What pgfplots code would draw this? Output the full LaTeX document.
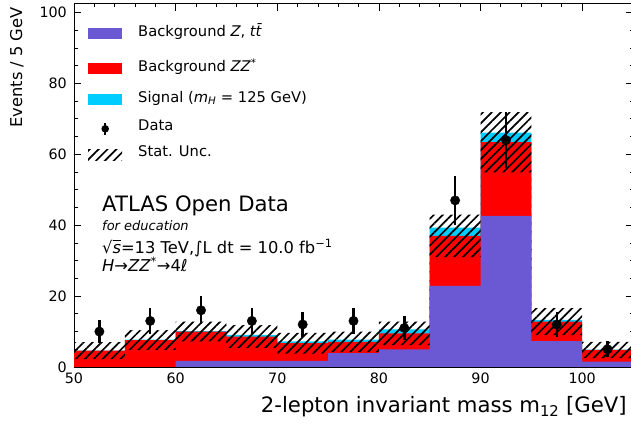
\documentclass[border=0pt]{standalone}
\usepackage{fontspec}
\setmainfont{DejaVu Sans}
\usepackage{pgfplots}
\pgfplotsset{compat=1.18}
\usepgfplotslibrary{fillbetween}
\usetikzlibrary{patterns.meta}

\definecolor{zttbar}{HTML}{6B59D3}
\definecolor{zzstar}{HTML}{FF0000}
\definecolor{higgs}{HTML}{00CDFF}

\tikzset{stathatch/.style={pattern={Lines[angle=45,distance=6.3bp,line width=1.7bp]}, pattern color=black}}
% invisible extent that sets the height of one legend row
\newcommand{\rowspan}[2]{\path[draw=none, fill=none] (0bp,#1) -- (0bp,#2);}

\begin{document}
\begin{tikzpicture}
\begin{axis}[
  at={(0,0)}, anchor=south west,
  scale only axis, width=559bp, height=363bp,
  xmin=50, xmax=105, ymin=0, ymax=102.4,
  xtick={50,60,...,100}, ytick={0,20,...,100},
  minor x tick num=4, minor y tick num=3,
  tick align=inside, xtick pos=both, ytick pos=both,
  major tick length=7bp, minor tick length=3.5bp,
  every tick/.style={black, line width=0.8bp},
  axis line style={line width=1bp},
  /pgf/number format/assume math mode=true,
  tick label style={font=\fontsize{14.3bp}{16bp}\selectfont, inner sep=0pt},
  xticklabel style={anchor=north, yshift=-6bp},
  yticklabel style={anchor=east, xshift=-7bp},
  xlabel={2-lepton invariant mass m\textsubscript{12} [GeV]},
  xlabel style={at={(rel axis cs:0.989,-0.1267)}, anchor=base east, inner sep=0pt, font=\fontsize{21.2bp}{24bp}\selectfont},
  ylabel={Events / 5 GeV},
  ylabel style={at={(rel axis cs:-0.0930,0.9917)}, anchor=base east, inner sep=0pt, font=\fontsize{16.3bp}{19bp}\selectfont},
  legend style={at={(rel axis cs:0.0197,0.9600)}, anchor=north west, draw=none, fill=none,
    font=\fontsize{14.7bp}{17bp}\selectfont, row sep=0bp, column sep=16bp,
    nodes={inner sep=0pt}},
  legend cell align=left,
  fill between/on layer=main,
]
% legend entries
\addlegendimage{legend image code/.code={\fill[zttbar, draw=none] (0bp,-8bp) rectangle (34bp,3bp); \rowspan{-25.6bp}{10bp}}}
\addlegendentry{Background \textit{Z}, \textit{t\=t}}
\addlegendimage{legend image code/.code={\fill[zzstar, draw=none] (0bp,-8bp) rectangle (34bp,3bp); \rowspan{-21bp}{10bp}}}
\addlegendentry{Background \textit{ZZ}\textsuperscript{*}}
\addlegendimage{legend image code/.code={\fill[higgs, draw=none] (0bp,-8bp) rectangle (34bp,3bp); \rowspan{-19bp}{10bp}}}
\addlegendentry{Signal (\textit{m}\textsubscript{\textit{H}} = 125 GeV)}
\addlegendimage{legend image code/.code={\draw[black, line width=2.2bp] (17bp,-8.5bp) -- (17bp,3.5bp); \fill[black, draw=none] (17bp,-2.5bp) circle (3.8bp); \rowspan{-15.7bp}{10bp}}}
\addlegendentry{Data}
\addlegendimage{legend image code/.code={\fill[stathatch, draw=none] (0bp,-8bp) rectangle (34bp,3bp); \rowspan{-8bp}{10bp}}}
\addlegendentry{Stat. Unc.}

% stacked expectation: total with signal, background total, Z+ttbar
\addplot[ybar, bar width=5, bar shift=0pt, fill=higgs, draw=none, forget plot] coordinates {
  (52.5,4.65) (57.5,7.7) (62.5,10.15) (67.5,9.05) (72.5,7.2) (77.5,7.7)
  (82.5,10.6) (87.5,39.3) (92.5,66.1) (97.5,13.3) (102.5,4.9)};
\addplot[ybar, bar width=5, bar shift=0pt, fill=zzstar, draw=none, forget plot] coordinates {
  (52.5,4.6) (57.5,7.6) (62.5,10.0) (67.5,8.6) (72.5,6.7) (77.5,7.1)
  (82.5,9.5) (87.5,37.0) (92.5,63.4) (97.5,12.8) (102.5,4.8)};
\addplot[ybar, bar width=5, bar shift=0pt, fill=zttbar, draw=none, forget plot] coordinates {
  (62.5,1.7) (67.5,1.7) (72.5,1.7) (77.5,3.9)
  (82.5,5.0) (87.5,22.9) (92.5,42.6) (97.5,7.3) (102.5,1.5)};

% statistical uncertainty band around the background total
\addplot[const plot, draw=none, name path=uncHi, forget plot] coordinates {
  (50,7.0) (55,10.4) (60,12.8) (65,11.8) (70,9.6) (75,10.0)
  (80,12.8) (85,43.0) (90,71.9) (95,16.6) (100,7.1) (105,7.1)};
\addplot[const plot, draw=none, name path=uncLo, forget plot] coordinates {
  (50,2.2) (55,4.8) (60,7.2) (65,5.4) (70,3.8) (75,4.2)
  (80,6.2) (85,31.0) (90,54.9) (95,9.0) (100,2.5) (105,2.5)};
\addplot[stathatch, draw=none, forget plot] fill between[of=uncHi and uncLo];

% data with Poisson errors
\addplot[only marks, mark=*, mark size=4.7bp, black, forget plot,
  error bars/.cd, y dir=both, y explicit, error mark=none,
  error bar style={line width=2.4bp, black}]
  table[x=x, y=y, y error=e] {
  x     y   e
  52.5  10  3.16
  57.5  13  3.61
  62.5  16  4.00
  67.5  13  3.61
  72.5  12  3.46
  77.5  13  3.61
  82.5  11  3.32
  87.5  47  6.86
  92.5  64  8.00
  97.5  12  3.46
  102.5 5   2.24
};
\end{axis}

\node[anchor=base west, inner sep=0pt, font=\fontsize{21.2bp}{24bp}\selectfont] at (28bp,155.3bp) {ATLAS Open Data};
\node[anchor=base west, inner sep=0pt, font=\fontsize{13bp}{15bp}\selectfont\itshape] at (28bp,136bp) {for education};
\node[anchor=base west, inner sep=0pt, font=\fontsize{16.3bp}{19bp}\selectfont] at (28bp,113.5bp)
  {√\makebox[0pt][l]{\rule[12.6bp]{8.6bp}{0.9bp}}\textit{s}=13 TeV,∫L dt = 10.0 fb\textsuperscript{−1}};
\node[anchor=base west, inner sep=0pt, font=\fontsize{16.3bp}{19bp}\selectfont] at (28bp,95.5bp)
  {\textit{H}→\textit{ZZ}\textsuperscript{*}→4\textit{ℓ}};

\pgfresetboundingbox
\useasboundingbox (-74bp,-59bp) rectangle (557bp,367bp);
\end{tikzpicture}
\end{document}
